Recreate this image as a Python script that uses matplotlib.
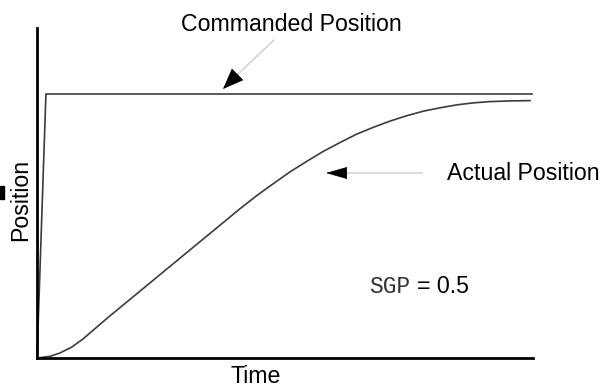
import matplotlib
matplotlib.use("Agg")
import matplotlib.pyplot as plt
from matplotlib.patches import Rectangle

W, H = 607, 387

# step command and the servo's response (normalised time / position)
cmd_t = [0.0, 0.018, 0.998]
cmd_pos = [0.0, 0.80, 0.80]

act_t = [0.0, 0.026, 0.046, 0.070, 0.093, 0.117, 0.141, 0.174, 0.208,
         0.241, 0.275, 0.308, 0.342, 0.376, 0.409, 0.443, 0.477, 0.510,
         0.544, 0.577, 0.611, 0.644, 0.678, 0.712, 0.745, 0.779, 0.812,
         0.846, 0.879, 0.913, 0.953, 0.994]
act_pos = [0.0, 0.005, 0.015, 0.033, 0.058, 0.089, 0.120, 0.161, 0.203,
           0.244, 0.286, 0.327, 0.369, 0.411, 0.452, 0.492, 0.529, 0.564,
           0.596, 0.626, 0.653, 0.678, 0.699, 0.718, 0.734, 0.748, 0.758,
           0.767, 0.773, 0.777, 0.779, 0.780]

gain_name = "SGP"
gain_value = 0.5

plt.rcParams['font.family'] = ['Liberation Sans', 'DejaVu Sans']
FS = 16.7


def fx(px):
    return px / W


def fy(py):
    return 1 - py / H


fig = plt.figure(figsize=(W / 100, H / 100), dpi=100)
ax = fig.add_axes([fx(37), fy(358), (533 - 37) / W, (358 - 28) / H])

ax.plot(cmd_t, cmd_pos, color='#3c3c3c', lw=1.2, clip_on=False,
        solid_joinstyle='round')
ax.plot(act_t, act_pos, color='#3c3c3c', lw=1.2, clip_on=False,
        solid_joinstyle='round')

ax.set_xlim(0, 1)
ax.set_ylim(0, 1)
ax.set_xticks([])
ax.set_yticks([])
for s in ['top', 'right']:
    ax.spines[s].set_visible(False)
for s in ['left', 'bottom']:
    ax.spines[s].set_linewidth(2.0)
    ax.spines[s].set_color('black')

# axis names
fig.text(fx(256), fy(383), "Time", fontsize=FS, ha='center', va='baseline')
fig.text(fx(32), fy(200), "Position", fontsize=FS, rotation=90,
         ha='right', va='center')

# callouts
fig.text(fx(181), fy(31), "Commanded Position", fontsize=FS,
         ha='left', va='baseline')
fig.text(fx(447), fy(180), "Actual Position", fontsize=FS,
         ha='left', va='baseline')


def callout(start, base, tip, head_len, head_w):
    # light shaft with a solid black head
    ax.annotate('', xy=(fx(base[0]), fy(base[1])), xycoords='figure fraction',
                xytext=(fx(start[0]), fy(start[1])), textcoords='figure fraction',
                arrowprops=dict(arrowstyle='-', color='#d4d4d4', lw=1.2,
                                shrinkA=0, shrinkB=0))
    ax.annotate('', xy=(fx(tip[0]), fy(tip[1])), xycoords='figure fraction',
                xytext=(fx(base[0]), fy(base[1])), textcoords='figure fraction',
                arrowprops=dict(arrowstyle='-|>,head_length=%g,head_width=%g'
                                % (head_len, head_w),
                                mutation_scale=1, color='black', lw=0.5,
                                shrinkA=0, shrinkB=0))


callout((274, 40), (236, 76), (223, 89), 14, 5.5)
callout((422, 173), (346, 173), (326, 173), 14, 4)

# gain label: register name in mono, value in sans
fig.text(fx(369), fy(293), gain_name, fontsize=16.5, family='Liberation Mono',
         color='#333333', ha='left', va='baseline')
fig.text(fx(417), fy(293), "= %g" % gain_value, fontsize=FS,
         ha='left', va='baseline')

fig.patches.append(Rectangle((0, fy(199)), fx(4), (199 - 186) / H,
                             transform=fig.transFigure, color='black'))

fig.savefig("out.png", dpi=100, facecolor='white')
